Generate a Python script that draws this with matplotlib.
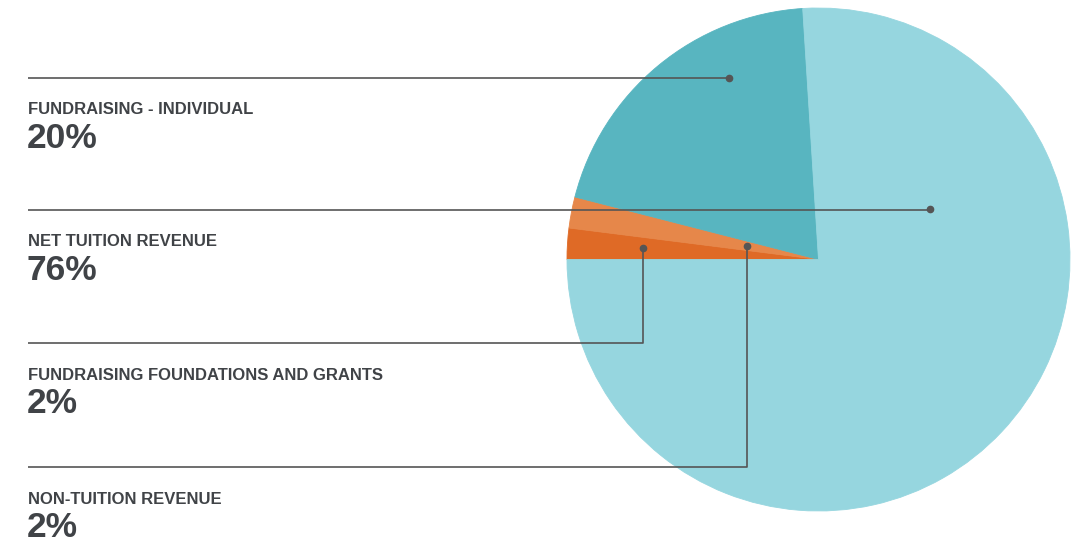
import numpy as np
import matplotlib
matplotlib.use("Agg")
import matplotlib.pyplot as plt

# data
labels = ["FUNDRAISING FOUNDATIONS AND GRANTS", "NON-TUITION REVENUE",
          "FUNDRAISING - INDIVIDUAL", "NET TUITION REVENUE"]
values = [2, 2, 20, 76]
colors = ["#DF6A26", "#E6874A", "#58B5C0", "#96D6DF"]

# label order on the left (top to bottom), index into the lists above
text_order = [2, 3, 0, 1]
line_y = [78, 210, 343, 467]
# where the leader line ends inside each wedge: (fraction along wedge, fraction of radius)
anchor = {0: (0.5, 0.70), 1: (0.5, 0.29), 2: (0.685, 0.806), 3: (0.254, 0.487)}

W, H = 1071, 546
fig = plt.figure(figsize=(W / 100, H / 100), dpi=100)
ax = fig.add_axes([0, 0, 1, 1])

cx, cy, r = 818.5, 259.5, 251.5
# y axis is flipped below, so counterclock=True reads clockwise on screen
wedges, _ = ax.pie(values, colors=colors, startangle=180, counterclock=True,
                   center=(cx, cy), radius=r, frame=True,
                   wedgeprops=dict(linewidth=0.6))
for w in wedges:
    w.set_edgecolor(w.get_facecolor())  # hide the seams between slices
ax.set_xlim(0, W)
ax.set_ylim(H, 0)
ax.set_aspect("equal")
ax.axis("off")

grey = "#404347"
for row, idx in enumerate(text_order):
    w = wedges[idx]
    f, rf = anchor[idx]
    a = np.deg2rad(w.theta1 + f * (w.theta2 - w.theta1))
    px = cx + r * rf * np.cos(a)
    py = cy + r * rf * np.sin(a)
    ly = line_y[row]
    ax.plot([28, px, px], [ly, ly, py], color="#555555", lw=1.2,
            solid_capstyle="butt", zorder=3)
    ax.plot(px, py, "o", color="#555555", ms=4.5, zorder=4)
    ax.text(28, ly + 36.5, labels[idx], fontsize=12, fontweight="bold",
            family=["Liberation Sans", "DejaVu Sans"], color=grey,
            va="baseline", ha="left")
    ax.text(27, ly + 70, f"{values[idx]}%", fontsize=25.5, fontweight="bold",
            family=["Liberation Sans", "DejaVu Sans"], color=grey,
            va="baseline", ha="left")

fig.savefig("out.png", dpi=100)
